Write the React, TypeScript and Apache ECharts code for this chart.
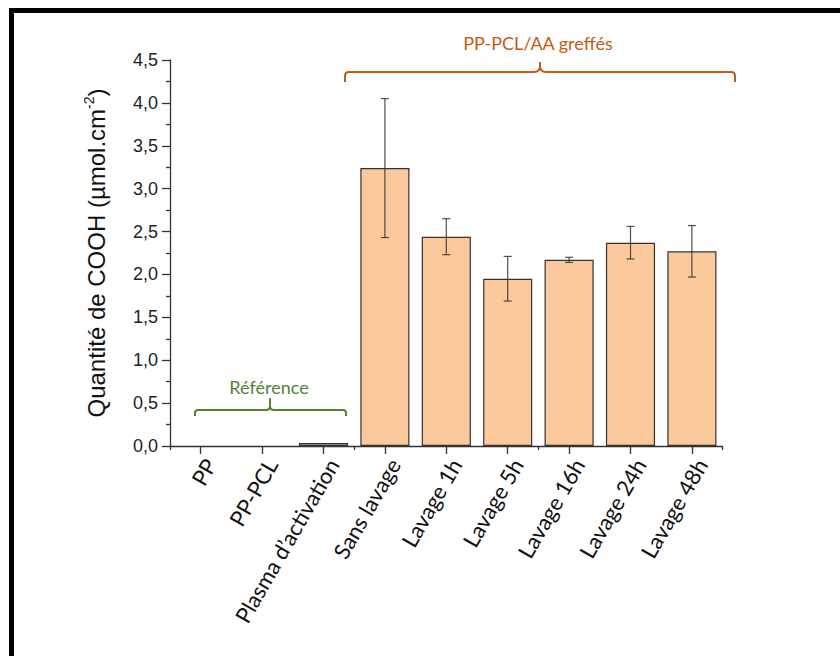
import React, { useEffect, useRef } from 'react';
import * as echarts from 'echarts';

const categories = ['PP', 'PP-PCL', 'Plasma d’activation', 'Sans lavage', 'Lavage 1h', 'Lavage 5h', 'Lavage 16h', 'Lavage 24h', 'Lavage 48h'];
const values = [0, 0, 0.035, 3.24, 2.44, 1.95, 2.17, 2.37, 2.27];
const errors = [0, 0, 0, 0.81, 0.21, 0.26, 0.03, 0.19, 0.30];
const yMin = 0;
const yMax = 4.5;
const yInterval = 0.5;

const ORANGE = '#C55A11';
const GREEN = '#548235';

const braceOrange = 'M345 82 L345 76 Q345 72 349 72 L534 72 Q540 72 540 66 L540 62 M540 66 Q540 72 546 72 L731 72 Q735 72 735 76 L735 82';
const braceGreen = 'M195 416 L195 413 Q195 410 198 410 L266 410 Q270 410 270 406 L270 398 M270 406 Q270 410 274 410 L343 410 Q346 410 346 413 L346 416';

echarts.graphic.registerShape('braceOrange', echarts.graphic.extendPath(braceOrange, {}));
echarts.graphic.registerShape('braceGreen', echarts.graphic.extendPath(braceGreen, {}));

export default function App() {
  const ref = useRef<HTMLDivElement>(null);
  useEffect(() => {
    const chart = echarts.init(ref.current!, null, { renderer: 'svg' });
    const errData = categories
      .map((c, i) => (errors[i] > 0 ? [i, values[i] - errors[i], values[i] + errors[i]] : null))
      .filter((d) => d !== null);
    const barData = values.map((v) => (v > 0 ? v : { value: v, itemStyle: { borderWidth: 0 } }));
    const axisColor = '#333';
    chart.setOption({
      animation: false,
      backgroundColor: '#fff',
      grid: { left: 170, right: 117.4, top: 60, bottom: 210, containLabel: false },
      xAxis: [
        {
          type: 'category',
          data: categories,
          position: 'bottom',
          axisLine: { show: true, lineStyle: { color: axisColor, width: 1.3 } },
          axisTick: { show: true, alignWithLabel: true, length: 8, lineStyle: { color: axisColor, width: 1.3 } },
          axisLabel: {
            interval: 0,
            rotate: 60,
            margin: 9,
            fontSize: 22,
            fontFamily: 'Lato',
            color: '#111',
            verticalAlign: 'top',
          },
        },
        {
          type: 'category',
          data: categories,
          position: 'bottom',
          offset: 0,
          axisLine: { show: false },
          axisTick: { show: true, alignWithLabel: false, length: 4, lineStyle: { color: axisColor, width: 1.3 } },
          axisLabel: { show: false },
        },
      ],
      yAxis: {
        type: 'value',
        min: yMin,
        max: yMax,
        interval: yInterval,
        name: '{a|Quantité de COOH (µmol.cm}{s|-2}{a|)}',
        nameLocation: 'middle',
        nameGap: 60,
        nameTextStyle: {
          rich: {
            a: { fontSize: 24, fontFamily: 'Liberation Sans', color: '#111', lineHeight: 28 },
            s: { fontSize: 14, fontFamily: 'Liberation Sans', color: '#111', verticalAlign: 'top', lineHeight: 28 },
          },
        },
        axisLine: { show: true, lineStyle: { color: axisColor, width: 1.3 } },
        axisTick: { show: true, length: 8, lineStyle: { color: axisColor, width: 1.3 } },
        minorTick: { show: true, splitNumber: 2, length: 4, lineStyle: { color: axisColor, width: 1.3 } },
        splitLine: { show: false },
        axisLabel: {
          formatter: (v: number) => v.toFixed(1).replace('.', ','),
          fontSize: 18,
          fontFamily: 'Liberation Sans',
          color: '#222',
          margin: 12,
        },
      },
      series: [
        {
          type: 'bar',
          data: barData,
          barWidth: '80%',
          itemStyle: { color: '#FBC99B', borderColor: '#333', borderWidth: 1.2 },
          z: 2,
        },
        {
          type: 'custom',
          data: errData,
          encode: { x: 0, y: [1, 2] },
          z: 3,
          renderItem: (params: any, api: any) => {
            const x = api.value(0);
            const lo = api.coord([x, api.value(1)]);
            const hi = api.coord([x, api.value(2)]);
            const cap = 4;
            const style = { stroke: 'rgba(50,50,50,0.85)', lineWidth: 1.2 };
            return {
              type: 'group',
              children: [
                { type: 'line', shape: { x1: hi[0], y1: hi[1], x2: lo[0], y2: lo[1] }, style },
                { type: 'line', shape: { x1: hi[0] - cap, y1: hi[1], x2: hi[0] + cap, y2: hi[1] }, style },
                { type: 'line', shape: { x1: lo[0] - cap, y1: lo[1], x2: lo[0] + cap, y2: lo[1] }, style },
              ],
            };
          },
        },
      ],
      graphic: [
        { type: 'rect', shape: { x: 9, y: 8, width: 831, height: 5 }, style: { fill: '#000' } },
        { type: 'rect', shape: { x: 9, y: 8, width: 5, height: 648 }, style: { fill: '#000' } },
        { type: 'braceOrange', x: 0, y: 0, style: { stroke: ORANGE, fill: 'none', lineWidth: 2 } },
        { type: 'braceGreen', x: 0, y: 0, style: { stroke: GREEN, fill: 'none', lineWidth: 2 } },
        {
          type: 'text',
          x: 538,
          y: 43,
          style: { text: 'PP-PCL/AA greffés', fill: ORANGE, fontSize: 18, fontFamily: 'Lato', align: 'center', verticalAlign: 'middle' },
        },
        {
          type: 'text',
          x: 269,
          y: 387,
          style: { text: 'Référence', fill: GREEN, fontSize: 18, fontFamily: 'Lato', align: 'center', verticalAlign: 'middle' },
        },
      ],
    });
    return () => chart.dispose();
  }, []);
  return <div ref={ref} style={{ position: 'fixed', left: 0, top: 0, width: 840, height: 656, background: '#fff' }} />;
}
